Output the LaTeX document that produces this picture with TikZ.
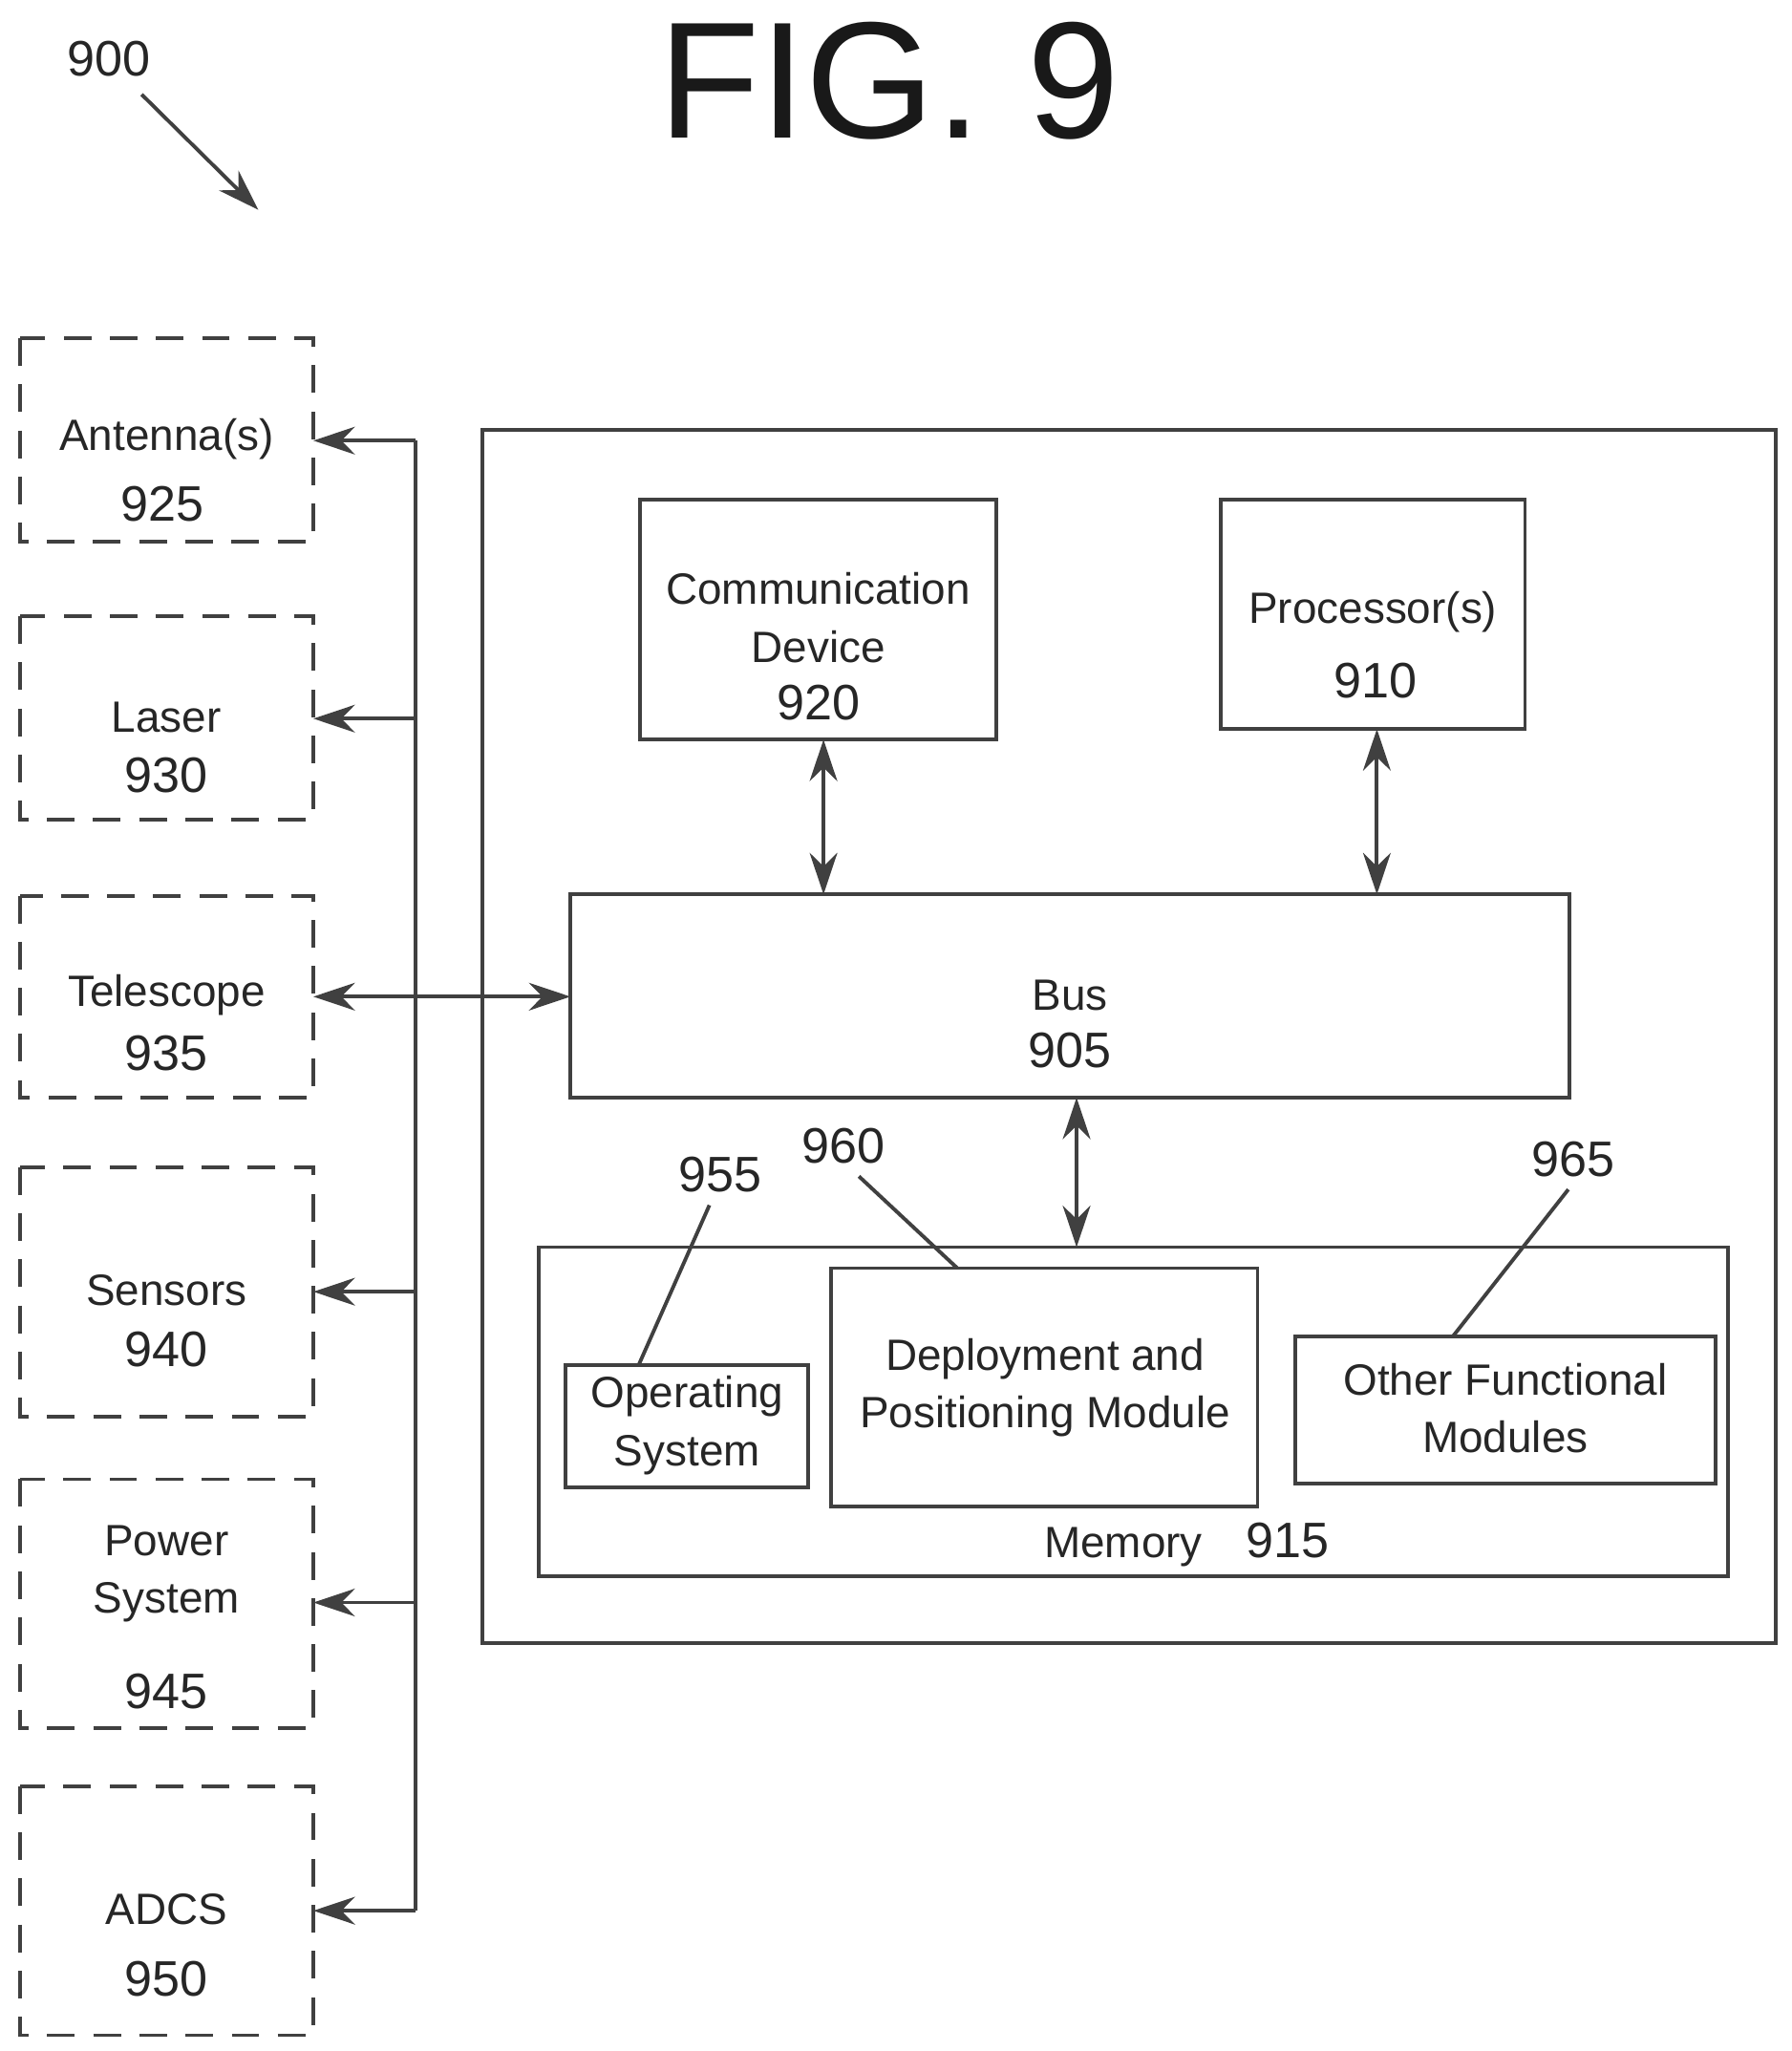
\documentclass[tikz,border=0pt]{standalone}
\usepackage{fontspec}
\setmainfont{Liberation Sans}
\usetikzlibrary{arrows.meta}
\begin{document}
\begin{tikzpicture}[x=0.01cm,y=-0.01cm,
  ln/.style={draw=black!75,line width=0.8pt},
  box/.style={ln,fill=none},
  dbox/.style={draw=black!75,line width=0.8pt,dash pattern=on 6pt off 4pt},
  arr/.style={ln,-{Stealth[length=9pt,width=6pt]}},
  darr/.style={ln,{Stealth[length=9pt,width=6pt]}-{Stealth[length=9pt,width=6pt]}},
  txt/.style={font=\fontsize{9.5}{12.5}\selectfont,align=center,text=black!85},
  num/.style={font=\fontsize{10.8}{13}\selectfont,text=black!85}]
\useasboundingbox (0,0) rectangle (1366,1564);
\node[num] (n900) at (83,45) {900};
\coordinate (a1) at (108,72); \coordinate (a2) at (197,160);
\draw[arr] (a1) -- (a2);
\node[font=\fontsize{36}{40}\selectfont,text=black!90] (fig) at (678,62) {FIG. 9};
% dashed boxes
\foreach \nm/\ya/\yb in {ant/258/413,las/470/625,tel/683/837,sen/890/1080,pow/1128/1318,adc/1362/1552}{
  \draw[dbox] (15,\ya) rectangle (239,\yb);
  \node[inner sep=0] (\nm) at (127,{(\ya+\yb)/2}) {};
  \coordinate (\nm R) at (239,{(\ya+\yb)/2});
}
\node[txt] at (127,335) {Antenna(s)}; \node[num] at (124,384) {925};
\node[txt] at (127,547) {Laser}; \node[num] at (127,591) {930};
\node[txt] at (127,759) {Telescope}; \node[num] at (127,803) {935};
\node[txt] at (127,984) {Sensors}; \node[num] at (127,1029) {940};
\node[txt] at (127,1200) {Power\\System}; \node[num] at (127,1290) {945};
\node[txt] at (127,1456) {ADCS}; \node[num] at (127,1509) {950};
% vertical line
\coordinate (vt) at (317,336); \coordinate (vb) at (317,1457);
\draw[ln] (vt) -- (vb);
\foreach \y in {336,548,985,1222,1457}{
  \draw[arr] (317,\y) -- (239,\y);
}
% outer
\draw[box] (368,328) rectangle (1354,1253);
\draw[box] (488,381) rectangle (760,564);
\node[txt] (comm) at (624,471) {Communication\\Device}; \node[num] at (624,536) {920};
\draw[box] (931,381) rectangle (1163,556);
\node[txt] (proc) at (1047,467) {Processor(s)}; \node[num] at (1049,519) {910};
\draw[box] (435,682) rectangle (1197,837);
\node[txt] (bus) at (816,759) {Bus}; \node[num] at (816,801) {905};
\draw[darr] (239,760) -- (435,760);
\draw[darr] (628,564) -- (628,682);
\draw[darr] (1050,556) -- (1050,682);
\draw[darr] (821,837) -- (821,951);
% memory
\draw[box] (411,951) rectangle (1318,1202);
\node[txt] (mem) at (905,1178) {Memory\hspace{1em}{\fontsize{10.8}{13}\selectfont 915}};
\draw[box] (431,1041) rectangle (616,1134);
\node[txt] (os) at (524,1087) {Operating\\System};
\draw[box] (634,967) rectangle (959,1149);
\node[txt] (dep) at (797,1058) {Deployment and\\Positioning Module};
\draw[box] (988,1019) rectangle (1308,1131);
\node[txt] (oth) at (1148,1074) {Other Functional\\Modules};
\node[num] (n955) at (549,896) {955};
\node[num] (n960) at (643,874) {960};
\node[num] (n965) at (1200,884) {965};
\draw[ln] (541,919) -- (487,1041);
\draw[ln] (655,897) -- (730,967);
\draw[ln] (1196,907) -- (1108,1019);
\end{tikzpicture}
\end{document}
